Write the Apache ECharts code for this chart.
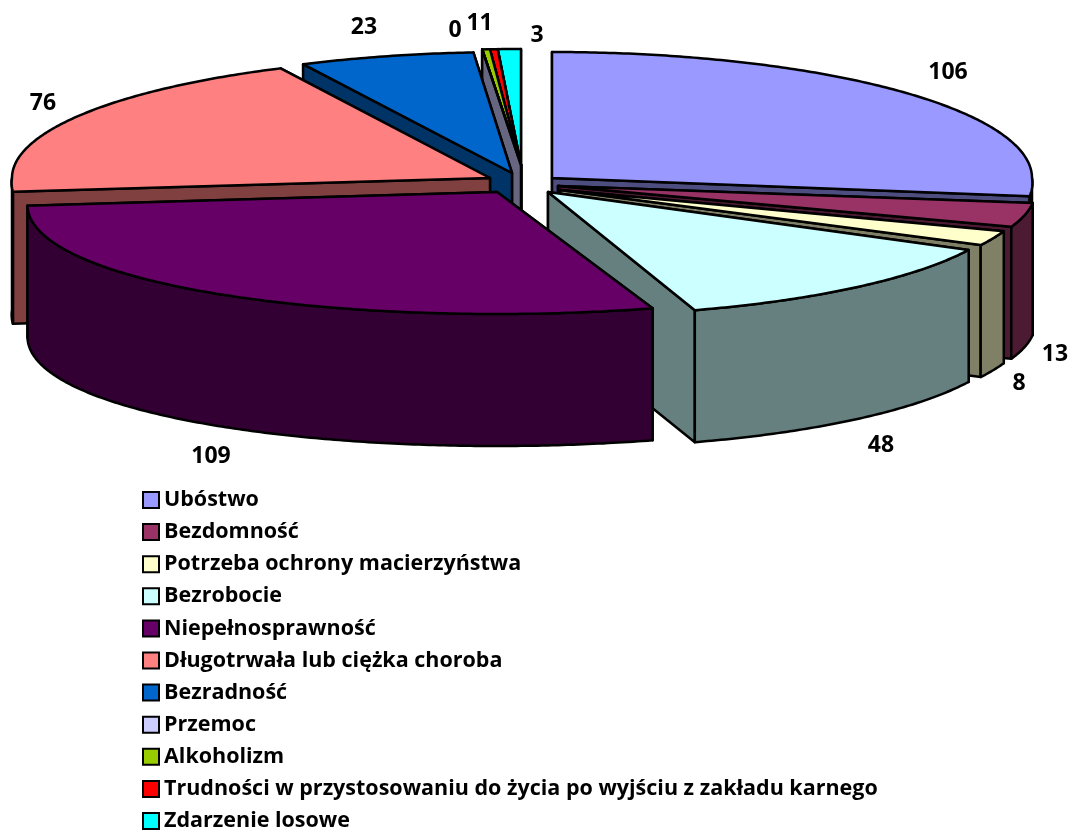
<!DOCTYPE html>
<html>
<head>
<meta charset="utf-8">
<style>
  html, body { margin: 0; padding: 0; background: #fff; }
  #chart { width: 1072px; height: 831px; }
</style>
<script src="https://cdn.jsdelivr.net/npm/echarts@6/dist/echarts.min.js"></script>
</head>
<body>
<div id="chart"></div>
<script>
var categories = ['Ubóstwo', 'Bezdomność', 'Potrzeba ochrony macierzyństwa', 'Bezrobocie', 'Niepełnosprawność',
  'Długotrwała lub ciężka choroba', 'Bezradność', 'Przemoc', 'Alkoholizm',
  'Trudności w przystosowaniu do życia po wyjściu z zakładu karnego', 'Zdarzenie losowe'];
var values = [106, 13, 8, 48, 109, 76, 23, 0, 1, 1, 3];
var topColors = ['#9999FF', '#993366', '#FFFFCC', '#CCFFFF', '#660066', '#FF8080', '#0066CC', '#CCCCFF', '#99CC00', '#FF0000', '#00FFFF'];
var sideColors = ['#4D4D80', '#4D1A33', '#808066', '#668080', '#330033', '#804040', '#003366', '#666680', '#4D6600', '#800000', '#008080'];

// exploded slices: where each apex lands, and the ellipse it is drawn on
var apexX = [552, 558, 560, 548, 497, 490, 512, 521, 521, 521, 521];
var apexY = [178, 186, 190, 192, 192, 178, 173, 165, 165, 165, 165];
var radiusX = [480, 477, 467, 467, 467, 478, 477, 480, 480, 480, 480];
var radiusY = [126, 117, 118, 124, 122, 122, 121, 116, 116, 116, 116];
var perspective = [0.04, 0.04, 0.04, 0.04, 0.105, 0.04, 0, 0, 0, 0, 0];
var depth = 132;
// back to front
var drawOrder = [10, 9, 8, 7, 6, 5, 0, 1, 2, 3, 4];
var labelX = [948, 1055, 1019, 881, 211, 43, 364, 455, 473, 486, 537];
var labelY = [72, 354, 383, 445, 456, 103, 27, 30, 23, 23, 35];

var total = values.reduce(function (a, b) { return a + b; }, 0);
var FONT = '"Open Sans", Lato, sans-serif';

function project(i, theta, drop) {
  var u = Math.sin(theta), v = -Math.cos(theta);
  return [
    apexX[i] + radiusX[i] * u * (1 + perspective[i] * Math.max(v, 0)),
    apexY[i] + radiusY[i] * v + drop
  ];
}

function face(points, fill) {
  return {
    type: 'polygon',
    shape: { points: points },
    style: { fill: fill, stroke: '#000', lineWidth: 2.5, lineJoin: 'round' }
  };
}

function makeRenderItem(i) {
  return function (params, api) {
    var before = 0;
    for (var k = 0; k < i; k++) before += values[k];
    var start = before / total * Math.PI * 2;
    var end = start + api.value(0) / total * Math.PI * 2;
    var apex = [apexX[i], apexY[i]];
    var side = sideColors[i];
    var children = [];

    // the two cut faces, the one further back first
    [start, end].sort(function (a, b) { return Math.cos(b) - Math.cos(a); }).forEach(function (t) {
      var a = project(i, t, 0), b = project(i, t, depth);
      children.push(face([apex, a, b, [apex[0], apex[1] + depth]], side));
    });

    // outer wall, only the part turned to the viewer
    var from = Math.max(start, Math.PI / 2), to = Math.min(end, Math.PI * 1.5);
    if (to > from) {
      var upper = [], lower = [];
      for (var t = from; t < to; t += 0.01) {
        upper.push(project(i, t, 0));
        lower.unshift(project(i, t, depth));
      }
      upper.push(project(i, to, 0));
      lower.unshift(project(i, to, depth));
      children.push(face(upper.concat(lower), side));
    }

    // top
    var top = [apex];
    for (var s = start; s < end; s += 0.01) top.push(project(i, s, 0));
    top.push(project(i, end, 0));
    children.push(face(top, topColors[i]));

    children.push({
      type: 'text',
      style: {
        text: String(api.value(0)), x: labelX[i], y: labelY[i],
        align: 'center', verticalAlign: 'middle',
        font: 'bold 23px ' + FONT, fill: '#000'
      }
    });
    return { type: 'group', children: children };
  };
}

var series = categories.map(function (name, i) {
  return {
    type: 'custom',
    name: name,
    coordinateSystem: 'none',
    silent: true,
    z: 2 + drawOrder.indexOf(i),
    itemStyle: { color: topColors[i] },
    data: [[values[i]]],
    renderItem: makeRenderItem(i)
  };
});

var chart = echarts.init(document.getElementById('chart'));
chart.setOption({
  animation: false,
  backgroundColor: '#fff',
  legend: {
    orient: 'vertical',
    left: 142,
    top: 488,
    height: 360,
    padding: 0,
    selectedMode: false,
    itemWidth: 16,
    itemHeight: 16,
    itemGap: 8.1,
    icon: 'rect',
    itemStyle: { borderColor: '#000', borderWidth: 2 },
    textStyle: { fontFamily: FONT, fontWeight: 'bold', fontSize: 21.5, color: '#000', lineHeight: 24 },
    data: categories
  },
  series: series
});
</script>
</body>
</html>
